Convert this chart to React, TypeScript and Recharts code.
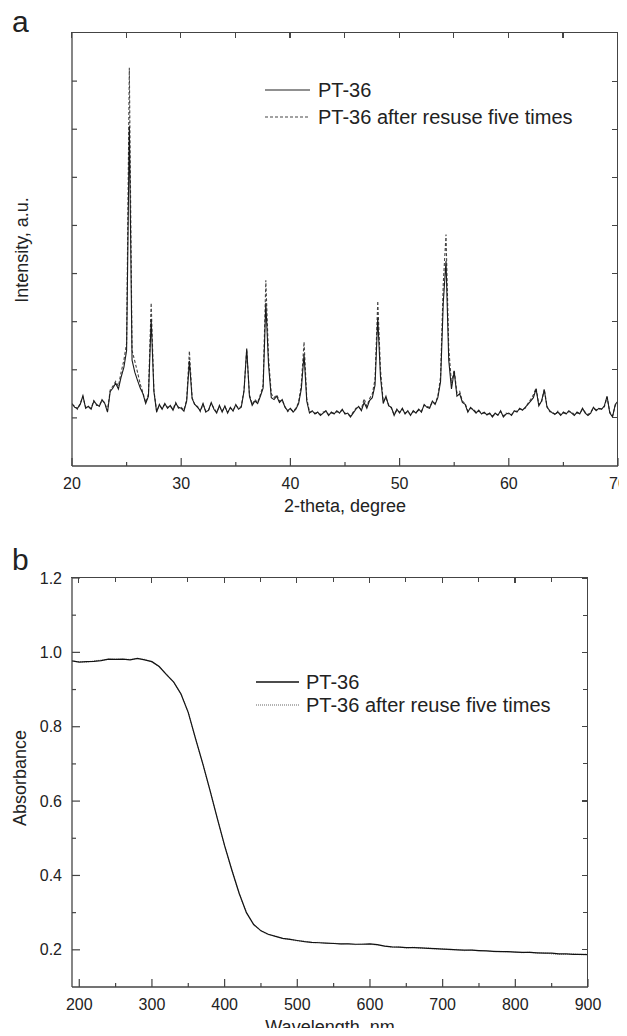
import React from 'react';
import { LineChart, Line, XAxis, YAxis, Legend } from 'recharts';

const FONT = '"Liberation Sans", Arial, Helvetica, sans-serif';
const INK = '#222';
const FRAME = '#444';

// ---------- Panel a: XRD ----------
const xrdStart = 20;
const xrdStep = 0.25;
const xrdFresh = [
  1.30, 1.22, 1.20, 1.28, 1.46, 1.20, 1.24, 1.18, 1.35, 1.28, 1.24, 1.38,
  1.30, 1.12, 1.55, 1.62, 1.72, 1.60, 1.85, 2.05, 2.40, 7.06, 2.20, 1.95,
  1.78, 1.62, 1.50, 1.30, 1.45, 3.05, 1.55, 1.12, 1.28, 1.18, 1.30, 1.20,
  1.26, 1.16, 1.30, 1.22, 1.20, 1.14, 1.35, 2.18, 1.40, 1.28, 1.22, 1.15,
  1.30, 1.12, 1.16, 1.32, 1.18, 1.10, 1.26, 1.12, 1.25, 1.10, 1.22, 1.14,
  1.28, 1.18, 1.22, 1.55, 2.44, 1.45, 1.26, 1.35, 1.30, 1.45, 1.62, 3.39,
  2.10, 1.42, 1.38, 1.45, 1.32, 1.38, 1.22, 1.15, 1.20, 1.12, 1.18, 1.30,
  1.60, 2.32, 1.35, 1.10, 1.15, 1.08, 1.12, 1.05, 1.10, 1.15, 1.05, 1.12,
  1.08, 1.15, 1.10, 1.18, 1.08, 1.10, 1.02, 1.10, 1.18, 1.24, 1.15, 1.32,
  1.20, 1.36, 1.42, 1.68, 3.08, 1.85, 1.30, 1.45, 1.25, 1.22, 1.05, 1.18,
  1.10, 1.20, 1.08, 1.15, 1.05, 1.15, 1.10, 1.18, 1.12, 1.28, 1.22, 1.20,
  1.35, 1.28, 1.42, 1.75, 3.40, 4.26, 2.20, 1.60, 1.97, 1.45, 1.50, 1.32,
  1.28, 1.12, 1.22, 1.16, 1.10, 1.16, 1.08, 1.12, 1.06, 1.10, 1.02, 1.10,
  1.05, 1.15, 1.02, 1.08, 1.10, 1.05, 1.15, 1.12, 1.20, 1.16, 1.22, 1.28,
  1.35, 1.42, 1.60, 1.25, 1.35, 1.58, 1.22, 1.15, 1.10, 1.08, 1.12, 1.05,
  1.12, 1.08, 1.15, 1.10, 1.05, 1.12, 1.08, 1.20, 1.10, 1.05, 1.10, 1.22,
  1.15, 1.20, 1.18, 1.25, 1.45, 1.10, 1.02, 1.28, 1.35,
];
const xrdReused = [
  1.28, 1.24, 1.18, 1.30, 1.44, 1.22, 1.22, 1.20, 1.36, 1.26, 1.26, 1.36,
  1.32, 1.15, 1.58, 1.66, 1.76, 1.66, 1.95, 2.20, 2.55, 8.28, 2.40, 2.18,
  1.95, 1.70, 1.52, 1.32, 1.50, 3.39, 1.58, 1.14, 1.26, 1.20, 1.28, 1.22,
  1.24, 1.18, 1.32, 1.20, 1.22, 1.16, 1.38, 2.39, 1.42, 1.26, 1.24, 1.13,
  1.28, 1.14, 1.15, 1.30, 1.20, 1.12, 1.24, 1.14, 1.23, 1.12, 1.20, 1.16,
  1.26, 1.20, 1.24, 1.58, 2.42, 1.48, 1.28, 1.38, 1.32, 1.48, 1.68, 3.86,
  2.25, 1.50, 1.42, 1.48, 1.35, 1.36, 1.24, 1.13, 1.18, 1.14, 1.20, 1.32,
  1.70, 2.58, 1.40, 1.12, 1.13, 1.10, 1.10, 1.07, 1.12, 1.13, 1.07, 1.10,
  1.10, 1.13, 1.12, 1.16, 1.10, 1.08, 1.04, 1.12, 1.20, 1.22, 1.18, 1.40,
  1.24, 1.40, 1.50, 1.80, 3.43, 2.00, 1.34, 1.42, 1.27, 1.20, 1.07, 1.16,
  1.12, 1.18, 1.10, 1.13, 1.07, 1.13, 1.12, 1.16, 1.14, 1.26, 1.24, 1.22,
  1.33, 1.30, 1.45, 1.85, 3.80, 4.81, 2.45, 1.72, 2.00, 1.52, 1.55, 1.35,
  1.30, 1.14, 1.20, 1.18, 1.12, 1.14, 1.10, 1.10, 1.08, 1.08, 1.04, 1.08,
  1.07, 1.13, 1.04, 1.10, 1.08, 1.07, 1.13, 1.14, 1.18, 1.18, 1.20, 1.30,
  1.38, 1.48, 1.62, 1.28, 1.33, 1.60, 1.24, 1.13, 1.12, 1.06, 1.14, 1.07,
  1.10, 1.10, 1.13, 1.12, 1.07, 1.10, 1.10, 1.18, 1.12, 1.07, 1.12, 1.20,
  1.17, 1.18, 1.20, 1.23, 1.43, 1.12, 1.04, 1.26, 1.33,
];
const xrdXTicks = [20, 25, 30, 35, 40, 45, 50, 55, 60, 65, 70];
const xrdYTicks = [1, 2, 3, 4, 5, 6, 7, 8];
const xrdXDomain = [20, 70];
const xrdYDomain = [0, 9];

// ---------- Panel b: UV-vis ----------
const uvStart = 190;
const uvStep = 10;
const uvFresh = [
  0.977, 0.974, 0.975, 0.976, 0.978, 0.982, 0.981, 0.982, 0.980, 0.984,
  0.980, 0.975, 0.962, 0.940, 0.920, 0.888, 0.838, 0.768, 0.700, 0.628,
  0.553, 0.480, 0.414, 0.352, 0.300, 0.268, 0.251, 0.242, 0.236, 0.231,
  0.228, 0.225, 0.222, 0.220, 0.219, 0.218, 0.217, 0.216, 0.216, 0.215,
  0.215, 0.216, 0.214, 0.210, 0.208, 0.207, 0.206, 0.206, 0.205, 0.204,
  0.203, 0.202, 0.201, 0.200, 0.199, 0.199, 0.198, 0.197, 0.196, 0.195,
  0.195, 0.194, 0.193, 0.193, 0.192, 0.191, 0.191, 0.189, 0.189, 0.188,
  0.188, 0.187,
];
const uvReused = [
  0.976, 0.975, 0.974, 0.977, 0.979, 0.981, 0.982, 0.981, 0.981, 0.983,
  0.981, 0.974, 0.961, 0.941, 0.919, 0.887, 0.839, 0.767, 0.701, 0.627,
  0.554, 0.479, 0.415, 0.351, 0.301, 0.267, 0.252, 0.241, 0.237, 0.230,
  0.229, 0.224, 0.223, 0.219, 0.220, 0.217, 0.218, 0.215, 0.217, 0.214,
  0.216, 0.215, 0.213, 0.211, 0.207, 0.208, 0.205, 0.207, 0.204, 0.205,
  0.202, 0.203, 0.200, 0.201, 0.198, 0.200, 0.197, 0.198, 0.195, 0.196,
  0.194, 0.195, 0.192, 0.194, 0.191, 0.192, 0.189, 0.188, 0.188, 0.189,
  0.187, 0.188,
];
const uvXTicks = [200, 250, 300, 350, 400, 450, 500, 550, 600, 650, 700, 750, 800, 850, 900];
const uvYTicks = [0.2, 0.3, 0.4, 0.5, 0.6, 0.7, 0.8, 0.9, 1.0, 1.1, 1.2];
const uvXDomain = [190, 900];
const uvYDomain = [0.1, 1.2];

const xrdData = xrdFresh.map((v, i) => ({
  x: Math.round((xrdStart + i * xrdStep) * 100) / 100,
  fresh: v,
  reused: xrdReused[i],
}));
const uvData = uvFresh.map((v, i) => ({
  x: uvStart + i * uvStep,
  fresh: v,
  reused: uvReused[i],
}));

const A = { w: 627, h: 520, left: 72, right: 618, top: 33, bottom: 466, pageTop: 0 };
const B = { w: 627, h: 516, left: 72, right: 588, top: 58, bottom: 467, pageTop: 520 };
type Box = typeof A;

const xrdMajor = (v: number) => v % 10 === 0;
const uvXMajor = (v: number) => v % 100 === 0;
const uvYMajor = (v: number) => Math.round(v * 10) % 2 === 0;

const makeXTick = (isMajor: (v: number) => boolean, fmt: (v: number) => string) => (p: any) => {
  const { x, y, payload } = p;
  const v = payload.value as number;
  const major = isMajor(v);
  const len = major ? 8 : 4;
  return (
    <g>
      <line x1={x} x2={x} y1={y} y2={y - len} stroke={FRAME} strokeWidth={1.2} />
      {major && (
        <text
          x={x}
          y={y + 17}
          textAnchor="middle"
          dominantBaseline="central"
          style={{ fontFamily: FONT, fontSize: 16, fill: INK }}
        >
          {fmt(v)}
        </text>
      )}
    </g>
  );
};

const makeYTick = (
  isMajor: (v: number) => boolean,
  fmt: ((v: number) => string) | null,
  majorLen: number,
  minorLen: number
) => (p: any) => {
  const { x, y, payload } = p;
  const v = payload.value as number;
  const major = isMajor(v);
  const len = major ? majorLen : minorLen;
  return (
    <g>
      <line x1={x} x2={x + len} y1={y} y2={y} stroke={FRAME} strokeWidth={1.2} />
      {fmt && major && (
        <text
          x={x - 10}
          y={y}
          textAnchor="end"
          dominantBaseline="central"
          style={{ fontFamily: FONT, fontSize: 16, fill: INK }}
        >
          {fmt(v)}
        </text>
      )}
    </g>
  );
};

// Frame box (CSS border) plus mirrored inward ticks on the top and right edges
function FrameBox({
  box,
  xDomain,
  yDomain,
  xTicks,
  yTicks,
  xMajor,
  yMajor,
}: {
  box: Box;
  xDomain: number[];
  yDomain: number[];
  xTicks: number[];
  yTicks: number[];
  xMajor: (v: number) => boolean;
  yMajor: (v: number) => boolean;
}) {
  const w = box.right - box.left;
  const h = box.bottom - box.top;
  const fx = (v: number) => ((v - xDomain[0]) / (xDomain[1] - xDomain[0])) * w;
  const fy = (v: number) => h - ((v - yDomain[0]) / (yDomain[1] - yDomain[0])) * h;
  return (
    <div
      style={{
        position: 'absolute',
        left: box.left - 1,
        top: box.pageTop + box.top - 1,
        width: w + 1,
        height: h + 1,
        borderTop: `1.5px solid ${FRAME}`,
        borderRight: `1.5px solid ${FRAME}`,
        boxSizing: 'border-box',
        pointerEvents: 'none',
        zIndex: 10,
      }}
    >
      {xTicks.map((t) => (
        <div
          key={'t' + t}
          style={{
            position: 'absolute',
            left: fx(t),
            top: 0,
            width: 1.2,
            height: xMajor(t) ? 5 : 4,
            background: FRAME,
          }}
        />
      ))}
      {yTicks.map((t) => (
        <div
          key={'r' + t}
          style={{
            position: 'absolute',
            right: 0,
            top: fy(t) - 0.6,
            width: yMajor(t) ? 5 : 4,
            height: 1.2,
            background: FRAME,
          }}
        />
      ))}
    </div>
  );
}

const axisCommon = {
  axisLine: { stroke: FRAME, strokeWidth: 1.3 },
  tickLine: false,
  tickSize: 0,
  tickMargin: 0,
  interval: 0 as const,
  allowDataOverflow: true,
};

const titleStyle = { fontFamily: FONT, fontSize: 18, fill: INK };

const LegendA = () => (
  <svg width={360} height={60} style={{ overflow: 'visible' }}>
    <line x1={3} x2={48} y1={18} y2={18} stroke="#222" strokeWidth={1.1} />
    <text x={56} y={18} dominantBaseline="central" style={{ fontFamily: FONT, fontSize: 20, fill: INK }}>
      PT-36
    </text>
    <line x1={3} x2={48} y1={45} y2={45} stroke="#444" strokeWidth={1.1} strokeDasharray="3 2" />
    <text x={56} y={45} dominantBaseline="central" style={{ fontFamily: FONT, fontSize: 20, fill: INK }}>
      PT-36 after resuse five times
    </text>
  </svg>
);

const LegendB = () => (
  <svg width={360} height={60} style={{ overflow: 'visible' }}>
    <line x1={6} x2={49} y1={17} y2={17} stroke="#111" strokeWidth={1.3} />
    <text x={56} y={17} dominantBaseline="central" style={{ fontFamily: FONT, fontSize: 20, fill: INK }}>
      PT-36
    </text>
    <line x1={6} x2={49} y1={40} y2={40} stroke="#999" strokeWidth={1.5} strokeDasharray="1 1" />
    <text x={56} y={40} dominantBaseline="central" style={{ fontFamily: FONT, fontSize: 20, fill: INK }}>
      PT-36 after reuse five times
    </text>
  </svg>
);

const letterStyle: React.CSSProperties = {
  position: 'absolute',
  left: 12,
  fontFamily: FONT,
  fontSize: 30,
  lineHeight: '34px',
  color: INK,
};

export default function App() {
  return (
    <div style={{ position: 'relative', margin: -8, width: 627, height: 1036, background: '#fff' }}>
      <div style={{ position: 'absolute', left: 0, top: A.pageTop }}>
        <LineChart
          width={A.w}
          height={A.h}
          data={xrdData}
          margin={{ top: A.top, right: A.w - A.right, bottom: A.h - A.bottom - 30, left: A.left - 60 }}
        >
          <XAxis
            dataKey="x"
            type="number"
            domain={xrdXDomain}
            ticks={xrdXTicks}
            height={30}
            {...axisCommon}
            tick={makeXTick(xrdMajor, (v) => String(v))}
            label={{
              content: () => (
                <text x={345} y={506} textAnchor="middle" dominantBaseline="central" style={titleStyle}>
                  2-theta, degree
                </text>
              ),
            }}
          />
          <YAxis
            type="number"
            domain={xrdYDomain}
            ticks={xrdYTicks}
            width={60}
            {...axisCommon}
            tick={makeYTick(() => false, null, 5, 5)}
            label={{
              content: () => (
                <text
                  x={22}
                  y={250}
                  textAnchor="middle"
                  dominantBaseline="central"
                  transform="rotate(-90 22 250)"
                  style={titleStyle}
                >
                  Intensity, a.u.
                </text>
              ),
            }}
          />
          <Line
            type="linear"
            dataKey="reused"
            stroke="#444"
            strokeWidth={1.1}
            strokeDasharray="3 2"
            dot={false}
            isAnimationActive={false}
          />
          <Line
            type="linear"
            dataKey="fresh"
            stroke="#1a1a1a"
            strokeWidth={1.1}
            dot={false}
            isAnimationActive={false}
          />
          <Legend
            layout="vertical"
            align="center"
            verticalAlign="middle"
            wrapperStyle={{ left: 262, top: 72, width: 360, height: 60 }}
            content={() => <LegendA />}
          />
        </LineChart>
      </div>

      <div style={{ position: 'absolute', left: 0, top: B.pageTop }}>
        <LineChart
          width={B.w}
          height={B.h}
          data={uvData}
          margin={{ top: B.top, right: B.w - B.right, bottom: B.h - B.bottom - 30, left: B.left - 60 }}
        >
          <XAxis
            dataKey="x"
            type="number"
            domain={uvXDomain}
            ticks={uvXTicks}
            height={30}
            {...axisCommon}
            tick={makeXTick(uvXMajor, (v) => String(v))}
            label={{
              content: () => (
                <text x={330} y={507} textAnchor="middle" dominantBaseline="central" style={titleStyle}>
                  Wavelength, nm
                </text>
              ),
            }}
          />
          <YAxis
            type="number"
            domain={uvYDomain}
            ticks={uvYTicks}
            width={60}
            {...axisCommon}
            tick={makeYTick(uvYMajor, (v) => v.toFixed(1), 8, 4)}
            label={{
              content: () => (
                <text
                  x={20}
                  y={258}
                  textAnchor="middle"
                  dominantBaseline="central"
                  transform="rotate(-90 20 258)"
                  style={titleStyle}
                >
                  Absorbance
                </text>
              ),
            }}
          />
          <Line
            type="linear"
            dataKey="reused"
            stroke="#999"
            strokeWidth={1.2}
            strokeDasharray="1 1"
            dot={false}
            isAnimationActive={false}
          />
          <Line
            type="linear"
            dataKey="fresh"
            stroke="#111"
            strokeWidth={1.2}
            dot={false}
            isAnimationActive={false}
          />
          <Legend
            layout="vertical"
            align="center"
            verticalAlign="middle"
            wrapperStyle={{ left: 250, top: 145, width: 360, height: 60 }}
            content={() => <LegendB />}
          />
        </LineChart>
      </div>

      <FrameBox
        box={A}
        xDomain={xrdXDomain}
        yDomain={xrdYDomain}
        xTicks={xrdXTicks}
        yTicks={xrdYTicks}
        xMajor={() => true}
        yMajor={() => true}
      />
      <FrameBox
        box={B}
        xDomain={uvXDomain}
        yDomain={uvYDomain}
        xTicks={uvXTicks}
        yTicks={uvYTicks}
        xMajor={uvXMajor}
        yMajor={uvYMajor}
      />

      <div style={{ ...letterStyle, top: 5 }}>a</div>
      <div style={{ ...letterStyle, top: 543 }}>b</div>
    </div>
  );
}
